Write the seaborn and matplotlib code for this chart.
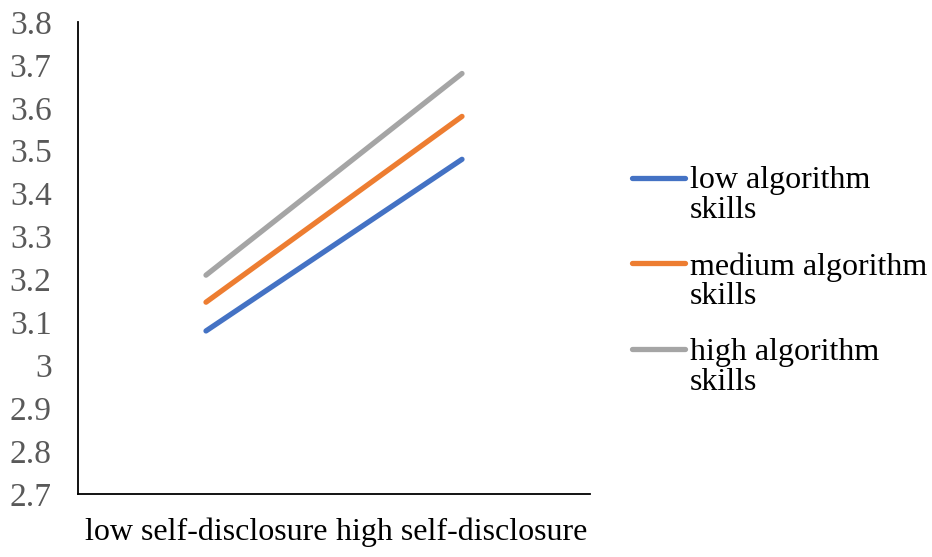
import matplotlib
matplotlib.use("Agg")
import matplotlib.pyplot as plt
import seaborn as sns
import pandas as pd

categories = ["low self-disclosure", "high self-disclosure"]
series_names = ["low algorithm\nskills", "medium algorithm\nskills", "high algorithm\nskills"]
low_skills = [3.08, 3.48]
medium_skills = [3.147, 3.58]
high_skills = [3.21, 3.68]
y_ticks = [2.7, 2.8, 2.9, 3.0, 3.1, 3.2, 3.3, 3.4, 3.5, 3.6, 3.7, 3.8]
y_tick_labels = ["2.7", "2.8", "2.9", "3", "3.1", "3.2", "3.3", "3.4", "3.5", "3.6", "3.7", "3.8"]
colors = ["#4472C4", "#ED7D31", "#A5A5A5"]

rows = []
for name, vals in zip(series_names, [low_skills, medium_skills, high_skills]):
    for c, v in zip(categories, vals):
        rows.append({"cat": c, "value": v, "series": name})
df = pd.DataFrame(rows)

sns.set_theme(style="white")
plt.rcParams["font.family"] = ["Liberation Serif", "DejaVu Serif"]
plt.rcParams["text.color"] = "black"

fig = plt.figure(figsize=(9.32, 5.57), dpi=100)
ax = fig.add_axes([78/932, 1-494/557, (590-78)/932, (494-22)/557])

sns.lineplot(data=df, x="cat", y="value", hue="series", hue_order=series_names,
             palette=colors, linewidth=3.8, ax=ax, legend=True, sort=False)
for ln in ax.get_lines():
    ln.set_solid_capstyle("round")

ax.set_xlim(-0.5, 1.5)
ax.set_ylim(2.7, 3.8)
ax.set_yticks(y_ticks)
ax.set_yticklabels(y_tick_labels, color="#595959", fontsize=24)
ax.set_xticks([0, 1])
ax.set_xticklabels(categories, fontsize=23, color="black")
ax.tick_params(axis="y", length=0, pad=19)
ax.tick_params(axis="x", length=0, pad=17)
ax.set_xlabel("")
ax.set_ylabel("")
for s in ["top", "right"]:
    ax.spines[s].set_visible(False)
for s in ["left", "bottom"]:
    ax.spines[s].set_color("black")
    ax.spines[s].set_linewidth(1.3)

handles, labels = ax.get_legend_handles_labels()
for h in handles:
    h.set_linewidth(3.8)
    h.set_solid_capstyle("round")
leg = ax.legend(handles, labels, loc="center left", bbox_to_anchor=(632/932, 1-281.5/557),
                bbox_transform=fig.transFigure, frameon=False, fontsize=23,
                handlelength=1.66, handletextpad=0.15, labelspacing=0.85,
                borderpad=0, borderaxespad=0)
for t in leg.get_texts():
    t.set_linespacing(1.02)
    t.set_color("black")
for col in leg._legend_handle_box.get_children():
    for hp in col.get_children():
        hp.align = "top"

fig.savefig("out.png", dpi=100)
